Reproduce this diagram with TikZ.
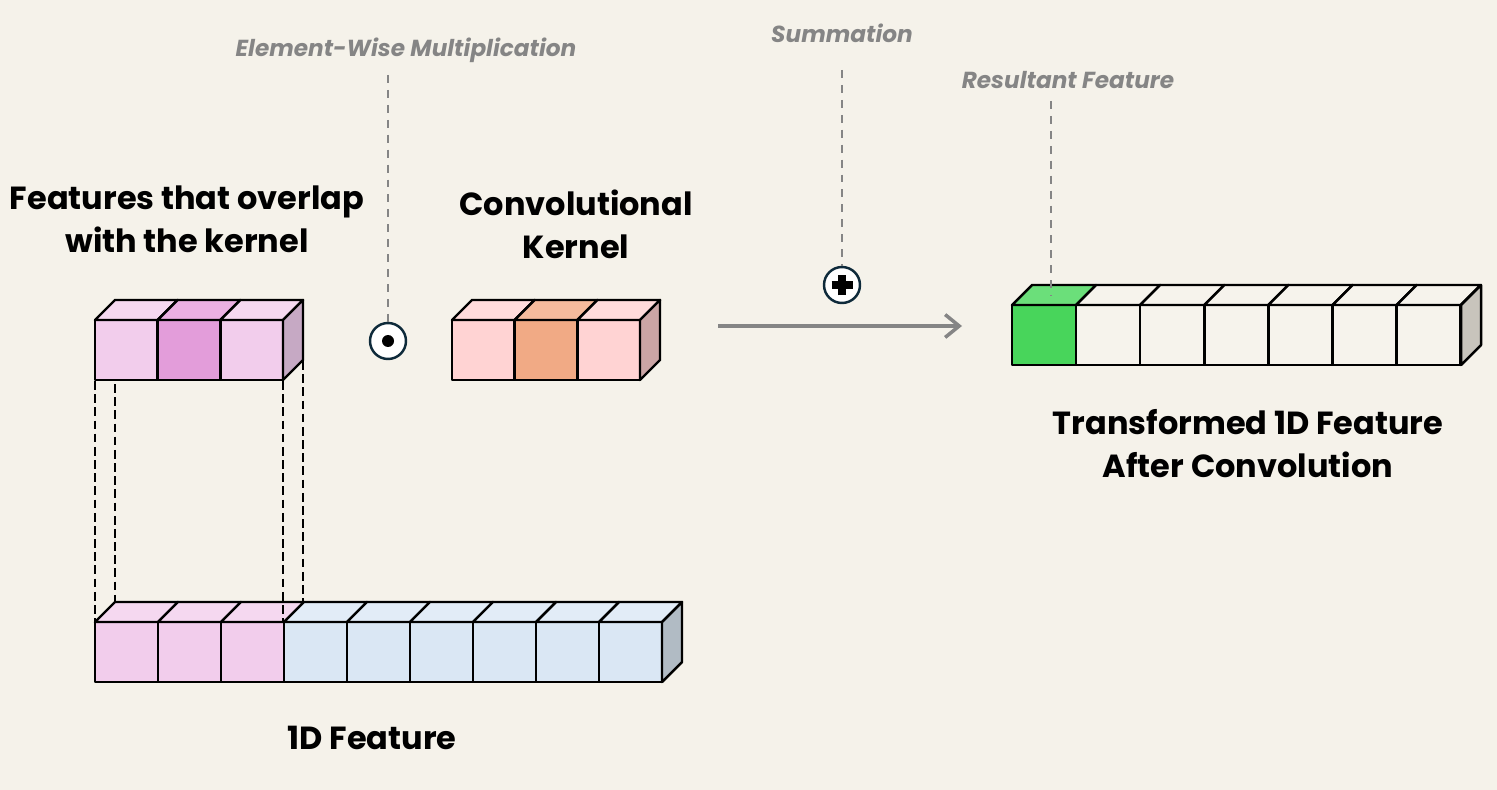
\documentclass[tikz,border=0pt]{standalone}
\usepackage{fontspec}
\setmainfont{Poppins}
\usepackage{xcolor}
\usepackage{tikz}
\usetikzlibrary{positioning,arrows.meta,calc}

\definecolor{bgcol}{HTML}{F5F2EA}
\definecolor{pinkF}{HTML}{F2CDEC}
\definecolor{pinkT}{HTML}{F5D8F0}
\definecolor{pinkDF}{HTML}{E39DDA}
\definecolor{pinkDT}{HTML}{EBB0E2}
\definecolor{pinkS}{HTML}{C6A9C4}
\definecolor{kerF}{HTML}{FFD3D3}
\definecolor{kerT}{HTML}{FFDBDB}
\definecolor{kerDF}{HTML}{F1AA85}
\definecolor{kerDT}{HTML}{F5BB9D}
\definecolor{kerS}{HTML}{CBA5A5}
\definecolor{blueF}{HTML}{DAE7F4}
\definecolor{blueT}{HTML}{E2ECF7}
\definecolor{blueS}{HTML}{B1BBC4}
\definecolor{greenF}{HTML}{48D55B}
\definecolor{greenT}{HTML}{6BDF7A}
\definecolor{emptyF}{HTML}{F6F3EC}
\definecolor{emptyS}{HTML}{C8C4BC}
\definecolor{guidecol}{HTML}{858585}
\definecolor{ringcol}{HTML}{0E2A3A}

\begin{document}
\begin{tikzpicture}[
    x=0.02cm, y=-0.02cm,
    cell/.style={draw=black, line width=1.4pt, line join=round},
    title/.style={font=\fontsize{18.2}{24.4}\selectfont\bfseries, align=center},
    note/.style={font=\fontsize{13.2}{15}\selectfont\bfseries\itshape, text=guidecol},
    guide/.style={draw=guidecol, line width=1.6pt, dash pattern=on 4.5pt off 4pt},
    proj/.style={draw=black, line width=1pt, dash pattern=on 5pt off 2.5pt},
    opcirc/.style={circle, draw=ringcol, fill=white, line width=1.4pt,
        minimum size=0.72cm, inner sep=0pt},
    arr/.style={-{Straight Barb[length=8pt,width=13pt]}, line width=2pt, guidecol},
]

% ── Background ──
\fill[bgcol] (0,0) rectangle (1497,790);
\useasboundingbox (0,0) rectangle (1497,790);

% ── 1D feature (bottom strip) ──
\foreach \i/\fc/\tc in {0/pinkF/pinkT,1/pinkF/pinkT,2/pinkF/pinkT,
        3/blueF/blueT,4/blueF/blueT,5/blueF/blueT,
        6/blueF/blueT,7/blueF/blueT,8/blueF/blueT} {
    \pgfmathsetmacro{\xa}{95+63*\i}
    \draw[cell, fill=\fc] (\xa,622) rectangle ++(63,60);
    \draw[cell, fill=\tc] (\xa,622) -- ++(20,-20) -- ++(63,0) -- ++(-20,20) -- cycle;
}
\draw[cell, fill=blueS] (662,622) -- ++(20,-20) -- ++(0,60) -- ++(-20,20) -- cycle;

% ── Overlapping features ──
\foreach \i/\fc/\tc in {0/pinkF/pinkT,1/pinkDF/pinkDT,2/pinkF/pinkT} {
    \pgfmathsetmacro{\xa}{95+62.7*\i}
    \draw[cell, fill=\fc] (\xa,320) rectangle ++(62.7,60);
    \draw[cell, fill=\tc] (\xa,320) -- ++(20,-20) -- ++(62.7,0) -- ++(-20,20) -- cycle;
}
\draw[cell, fill=pinkS] (283,320) -- ++(20,-20) -- ++(0,60) -- ++(-20,20) -- cycle;

% ── Projection lines ──
\coordinate (ovA) at (95,381);  \coordinate (ftA) at (95,622);
\coordinate (ovB) at (115,384); \coordinate (ftB) at (115,602);
\coordinate (ovC) at (283,381); \coordinate (ftC) at (283,622);
\coordinate (ovD) at (303,361); \coordinate (ftD) at (303,602);
\draw[proj] (ovA) -- (ftA);
\draw[proj] (ovB) -- (ftB);
\draw[proj] (ovC) -- (ftC);
\draw[proj] (ovD) -- (ftD);

% ── Convolutional kernel ──
\foreach \i/\fc/\tc in {0/kerF/kerT,1/kerDF/kerDT,2/kerF/kerT} {
    \pgfmathsetmacro{\xa}{452+62.7*\i}
    \draw[cell, fill=\fc] (\xa,320) rectangle ++(62.7,60);
    \draw[cell, fill=\tc] (\xa,320) -- ++(20,-20) -- ++(62.7,0) -- ++(-20,20) -- cycle;
}
\draw[cell, fill=kerS] (640,320) -- ++(20,-20) -- ++(0,60) -- ++(-20,20) -- cycle;

% ── Result strip ──
\foreach \i/\fc/\tc in {0/greenF/greenT,1/emptyF/emptyF,2/emptyF/emptyF,
        3/emptyF/emptyF,4/emptyF/emptyF,5/emptyF/emptyF,6/emptyF/emptyF} {
    \pgfmathsetmacro{\xa}{1012+64.1*\i}
    \draw[cell, fill=\fc] (\xa,305) rectangle ++(64.1,60);
    \draw[cell, fill=\tc] (\xa,305) -- ++(20,-20) -- ++(64.1,0) -- ++(-20,20) -- cycle;
}
\draw[cell, fill=emptyS] (1461,305) -- ++(20,-20) -- ++(0,60) -- ++(-20,20) -- cycle;

% ── Operators ──
\node[opcirc] (mul) at (388,341) {};
\fill[black] (mul.center) circle (6);
\node[opcirc] (sum) at (842,285) {};
\draw[black, line width=4.2pt] ([xshift=-0.21cm]sum.center) -- ([xshift=0.21cm]sum.center);
\draw[black, line width=4.2pt] ([yshift=-0.21cm]sum.center) -- ([yshift=0.21cm]sum.center);

\coordinate (convA) at (718,326);
\coordinate (convB) at (962,326);
\draw[arr] (convA) -- (convB);

% ── Annotations ──
\node[note] (mullbl) at (406,50) {Element-Wise Multiplication};
\node[note] (sumlbl) at (842,33) {Summation};
\node[note] (reslbl) at (1068,80) {Resultant Feature};

\coordinate (multop) at (388,75);
\coordinate (sumtop) at (842,70);
\coordinate (restop) at (1051,101);
\coordinate (resend) at (1051,296);
\draw[guide] (multop) -- (mul.north);
\draw[guide] (sumtop) -- (sum.north);
\draw[guide] (restop) -- (resend);

% ── Titles ──
\node[title] (ovtitle)  at (187,219) {Features that overlap\\with the kernel};
\node[title] (kertitle) at (576,224) {Convolutional\\Kernel};
\node[title] (outtitle) at (1248,444) {Transformed 1D Feature\\After Convolution};
\node[title] (ftitle)   at (372,738) {1D Feature};

\end{tikzpicture}
\end{document}
